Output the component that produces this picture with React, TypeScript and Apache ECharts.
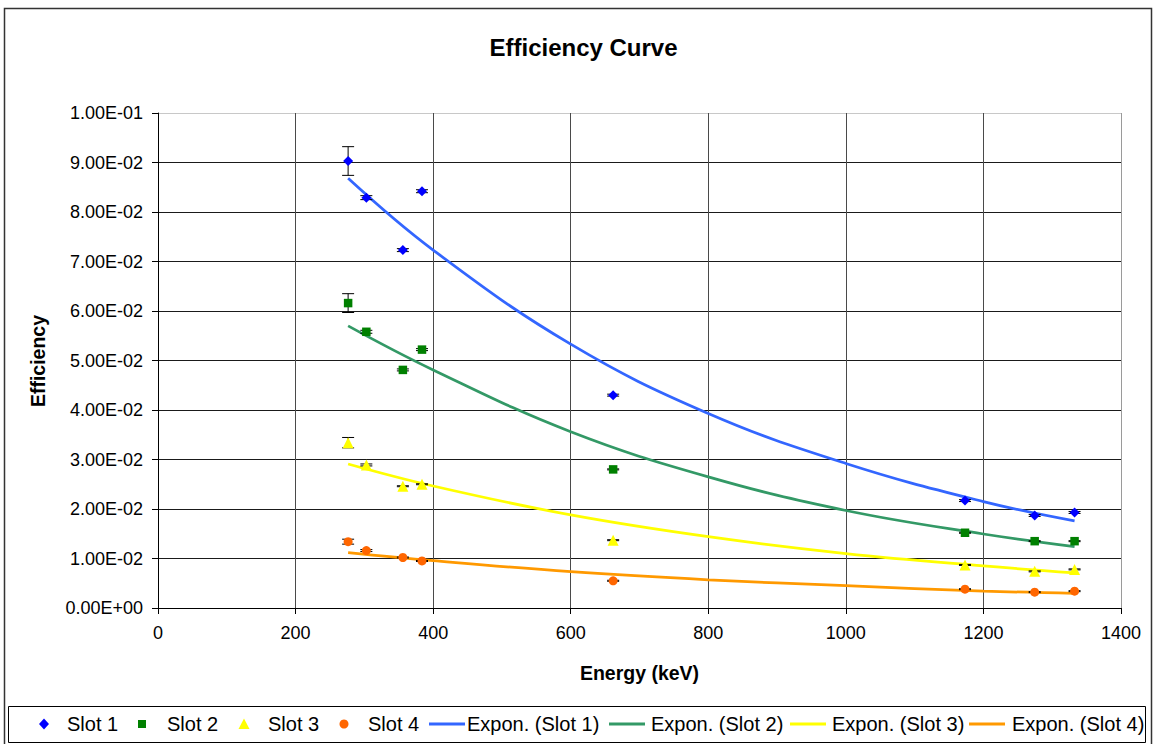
import React, { useEffect, useRef } from "react";
import * as echarts from "echarts";

const energies = [276.4, 302.9, 356.0, 383.8, 661.7, 1173.2, 1274.5, 1332.5];
const slot1 = [0.0903, 0.0829, 0.0723, 0.0842, 0.043, 0.0217, 0.0187, 0.0193];
const slot2 = [0.0616, 0.0558, 0.0481, 0.0522, 0.028, 0.0152, 0.0135, 0.0135];
const slot3 = [0.0334, 0.0289, 0.0246, 0.025, 0.0137, 0.0087, 0.0074, 0.0078];
const slot4 = [0.0134, 0.0116, 0.0102, 0.0095, 0.0055, 0.0038, 0.0032, 0.0034];
const err1 = [0.0029, 0.0004, 0.0003, 0.0003, 0.0002, 0.0002, 0.0002, 0.0002];
const err2 = [0.0019, 0.0003, 0.0002, 0.0002, 0.0001, 0.0001, 0.0001, 0.0001];
const err3 = [0.00105, 0.0002, 0.0001, 0.0001, 0.0001, 0.0001, 0.0001, 0.0001];
const err4 = [0.0005, 0.0002, 0.0001, 0.0001, 0.0001, 0.0001, 0.0001, 0.0001];

const trendX = [276.4, 400, 600, 800, 1000, 1200, 1332.5];
const trend1 = [0.0868, 0.0723, 0.0533, 0.0393, 0.0292, 0.0215, 0.0176];
const trend2 = [0.057, 0.0481, 0.0356, 0.0265, 0.0197, 0.01495, 0.0124];
const trend3 = [0.0291, 0.02465, 0.0188, 0.0144, 0.011, 0.0085, 0.0071];
const trend4 = [0.01117, 0.00956, 0.00734, 0.0057, 0.0045, 0.00343, 0.00297];

const scatterNames = ["Slot 1", "Slot 2", "Slot 3", "Slot 4"];
const trendNames = ["Expon. (Slot 1)", "Expon. (Slot 2)", "Expon. (Slot 3)", "Expon. (Slot 4)"];

const FONT = "'Liberation Sans', Arial, sans-serif";
const MARK_COLORS = ["#0000FF", "#008000", "#FFFF00", "#FF6600"];
const TREND_COLORS = ["#3366FF", "#339966", "#FFFF00", "#FF9900"];

function fmtSci(v: number): string {
  if (Math.abs(v) < 1e-12) return "0.00E+00";
  let e = Math.floor(Math.log10(Math.abs(v)) + 1e-9);
  let m = v / Math.pow(10, e);
  if (Math.abs(m) >= 9.995) {
    e += 1;
    m = v / Math.pow(10, e);
  }
  return m.toFixed(2) + "E" + (e < 0 ? "-" : "+") + String(Math.abs(e)).padStart(2, "0");
}

function errSeries(name: string, ys: number[], errs: number[]) {
  return {
    type: "custom",
    name,
    silent: true,
    z: 3,
    encode: { x: 0, y: 1 },
    data: energies.map((x, i) => [x, ys[i], errs[i]]),
    renderItem: (_params: any, api: any) => {
      const x = api.value(0);
      const y = api.value(1);
      const e = api.value(2);
      const top = api.coord([x, y + e]);
      const bot = api.coord([x, y - e]);
      const hw = 6;
      const st = { stroke: "#000", lineWidth: 1 };
      return {
        type: "group",
        children: [
          { type: "line", shape: { x1: top[0], y1: top[1], x2: bot[0], y2: bot[1] }, style: st },
          { type: "line", shape: { x1: top[0] - hw, y1: top[1], x2: top[0] + hw, y2: top[1] }, style: st },
          { type: "line", shape: { x1: bot[0] - hw, y1: bot[1], x2: bot[0] + hw, y2: bot[1] }, style: st },
        ],
      };
    },
  };
}

function buildLegend(): any[] {
  const cy = 724;
  const els: any[] = [];
  const markCx = [44, 142, 244, 344];
  const markTx = [67, 167, 268, 368];
  // diamond
  els.push({ type: "polygon", shape: { points: [[markCx[0], cy - 5.5], [markCx[0] + 5, cy], [markCx[0], cy + 5.5], [markCx[0] - 5, cy]] }, style: { fill: MARK_COLORS[0] } });
  // square
  els.push({ type: "rect", shape: { x: markCx[1] - 4, y: cy - 4, width: 8, height: 8 }, style: { fill: MARK_COLORS[1] } });
  // triangle
  els.push({ type: "polygon", shape: { points: [[markCx[2], cy - 5.5], [markCx[2] + 5.5, cy + 5], [markCx[2] - 5.5, cy + 5]] }, style: { fill: MARK_COLORS[2] } });
  // circle
  els.push({ type: "circle", shape: { cx: markCx[3], cy, r: 4.5 }, style: { fill: MARK_COLORS[3] } });
  scatterNames.forEach((n, i) => {
    els.push({ type: "text", x: markTx[i], y: cy, style: { text: n, font: `20px ${FONT}`, fill: "#000", align: "left", verticalAlign: "middle" } });
  });
  const lineX = [429, 609, 790, 969];
  const lineTx = [467, 651, 832, 1012];
  trendNames.forEach((n, i) => {
    els.push({ type: "line", shape: { x1: lineX[i], y1: cy, x2: lineX[i] + 36, y2: cy }, style: { stroke: TREND_COLORS[i], lineWidth: 3 } });
    els.push({ type: "text", x: lineTx[i], y: cy, style: { text: n, font: `20px ${FONT}`, fill: "#000", align: "left", verticalAlign: "middle" } });
  });
  return els.map((e) => ({ ...e, z: 100, silent: true }));
}

export default function App() {
  const ref = useRef<HTMLDivElement>(null);
  useEffect(() => {
    document.body.style.margin = "0";
    if (!ref.current) return;
    const chart = echarts.init(ref.current, undefined, { renderer: "svg" });
    const scatterStyles = [
      { symbol: "diamond", size: 10, data: slot1 },
      { symbol: "rect", size: 8.5, data: slot2 },
      { symbol: "triangle", size: 11, data: slot3 },
      { symbol: "circle", size: 9, data: slot4 },
    ];
    const trendData = [trend1, trend2, trend3, trend4];
    const hColors = Array(10).fill("#1a1a1a").concat(["#c8c8c8"]);
    const vColors = Array(7).fill("#4a4a4a").concat(["#9a9a9a"]);
    const option: any = {
      animation: false,
      backgroundColor: "#fff",
      textStyle: { fontFamily: FONT, color: "#000" },
      grid: { left: 158, right: 33, top: 113, bottom: 136, containLabel: false },
      xAxis: {
        type: "value",
        min: 0,
        max: 1400,
        interval: 200,
        axisLine: { show: true, lineStyle: { color: "#000", width: 1 } },
        axisTick: { show: true, length: 6, inside: false, lineStyle: { color: "#000" } },
        axisLabel: { fontSize: 18, color: "#000", fontFamily: FONT, margin: 16, formatter: (v: number) => String(v) },
        splitLine: { show: true, lineStyle: { color: vColors, width: 1 } },
      },
      yAxis: {
        type: "value",
        min: 0,
        max: 0.1,
        interval: 0.01,
        axisLine: { show: true, lineStyle: { color: "#000", width: 1 } },
        axisTick: { show: true, length: 6, inside: false, lineStyle: { color: "#000" } },
        axisLabel: { fontSize: 18, color: "#000", fontFamily: FONT, margin: 15, formatter: (v: number) => fmtSci(v) },
        splitLine: { show: true, lineStyle: { color: hColors, width: 1 } },
      },
      graphic: [
        {
          type: "rect",
          shape: { x: 4.5, y: 8.5, width: 1147, height: 800 },
          style: { fill: "none", stroke: "#333", lineWidth: 1.5 },
          z: 100,
          silent: true,
        },
        {
          type: "rect",
          shape: { x: 8.5, y: 706.5, width: 1137, height: 36 },
          style: { fill: "none", stroke: "#000", lineWidth: 1 },
          z: 100,
          silent: true,
        },
        {
          type: "text",
          x: 583.5,
          y: 47,
          style: { text: "Efficiency Curve", font: `bold 24px ${FONT}`, fill: "#000", align: "center", verticalAlign: "middle" },
          z: 100,
        },
        {
          type: "text",
          x: 639.5,
          y: 673,
          style: { text: "Energy (keV)", font: `bold 19.5px ${FONT}`, fill: "#000", align: "center", verticalAlign: "middle" },
          z: 100,
        },
        {
          type: "text",
          x: 38,
          y: 361,
          rotation: Math.PI / 2,
          style: { text: "Efficiency", font: `bold 19.5px ${FONT}`, fill: "#000", align: "center", verticalAlign: "middle" },
          z: 100,
        },
        ...buildLegend(),
      ],
      series: [
        ...trendData.map((d, i) => ({
          type: "line",
          name: trendNames[i],
          data: trendX.map((x, j) => [x, d[j]]),
          smooth: 0.4,
          symbol: "none",
          showSymbol: false,
          z: 2,
          lineStyle: { color: TREND_COLORS[i], width: 2.75 },
          itemStyle: { color: TREND_COLORS[i] },
          silent: true,
        })),
        errSeries("err1", slot1, err1),
        errSeries("err2", slot2, err2),
        errSeries("err3", slot3, err3),
        errSeries("err4", slot4, err4),
        ...scatterStyles.map((s, i) => ({
          type: "scatter",
          name: scatterNames[i],
          symbol: s.symbol,
          symbolSize: s.size,
          data: energies.map((x, j) => [x, s.data[j]]),
          itemStyle: { color: MARK_COLORS[i], opacity: 1 },
          z: 4,
        })),
      ],
    };
    chart.setOption(option);
    return () => chart.dispose();
  }, []);
  return <div ref={ref} style={{ width: 1154, height: 744 }} />;
}
